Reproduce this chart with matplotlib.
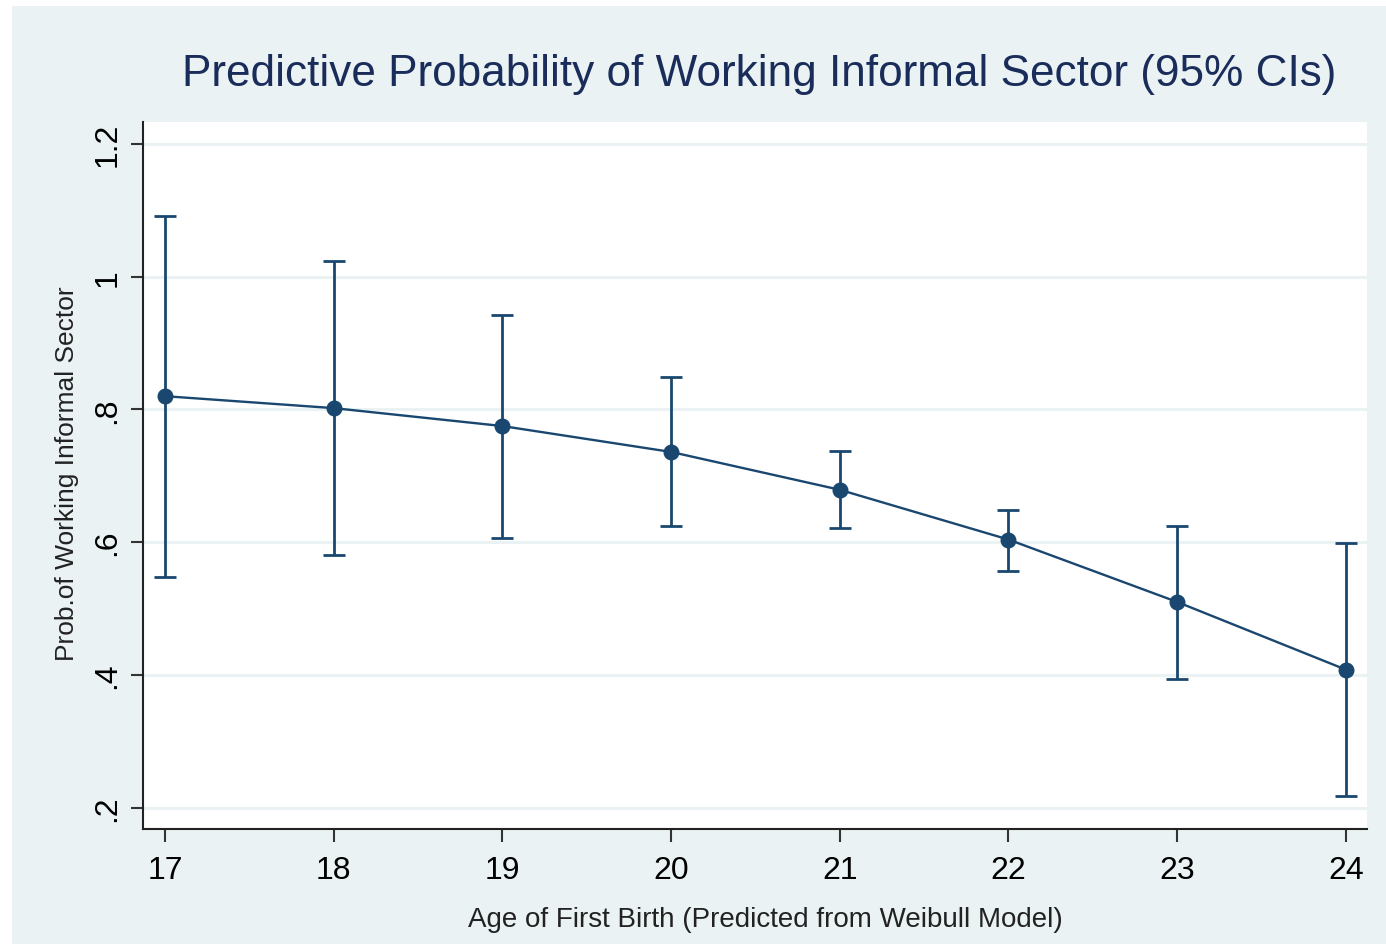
import matplotlib
matplotlib.use("Agg")
import matplotlib.pyplot as plt
from matplotlib.patches import Rectangle

plt.rcParams['font.family'] = ['Liberation Sans', 'DejaVu Sans']

ages = [17, 18, 19, 20, 21, 22, 23, 24]
prob = [0.820, 0.802, 0.775, 0.736, 0.679, 0.604, 0.510, 0.408]
upper = [1.092, 1.024, 0.943, 0.849, 0.738, 0.649, 0.625, 0.599]
lower = [0.548, 0.581, 0.607, 0.625, 0.622, 0.557, 0.394, 0.217]
yticks = [0.2, 0.4, 0.6, 0.8, 1.0, 1.2]
ytick_labels = [".2", ".4", ".6", ".8", "1", "1.2"]

W, H = 1386, 945
fig = plt.figure(figsize=(W / 100, H / 100), dpi=100, facecolor='white')
bg = '#EAF2F3'
fig.patches.append(Rectangle((12 / W, 0), 1 - 12 / W, 1 - 7 / H, transform=fig.transFigure,
                             facecolor=bg, edgecolor='none', zorder=-10))

ax = fig.add_axes([143 / W, 1 - 830 / H, (1367 - 143) / W, (830 - 123) / H])
ax.set_facecolor('white')
navy = '#1A476F'

yerr_low = [p - l for p, l in zip(prob, lower)]
yerr_up = [u - p for p, u in zip(prob, upper)]
ax.errorbar(ages, prob, yerr=[yerr_low, yerr_up], fmt='none', ecolor=navy,
            elinewidth=2.0, capsize=8, capthick=2.0, zorder=3)
ax.plot(ages, prob, color=navy, lw=1.7, marker='o', markersize=10.5, zorder=4)

ax.set_xlim(16.87, 24.125)
ax.set_ylim(0.168, 1.233)
ax.set_xticks(ages)
ax.set_xticklabels([str(a) for a in ages], fontsize=23)
ax.set_yticks(yticks)
ax.set_yticklabels(ytick_labels, fontsize=23, rotation=90, va='center')
ax.grid(axis='y', color=bg, lw=2.2, zorder=0)
ax.set_axisbelow(True)
for s in ['top', 'right']:
    ax.spines[s].set_visible(False)
for s in ['left', 'bottom']:
    ax.spines[s].set_linewidth(1.5)
    ax.spines[s].set_color('#222222')
ax.tick_params(axis='x', length=9, width=1.5, color='#333333', pad=10)
ax.tick_params(axis='y', length=9, width=1.5, color='#333333', pad=6)

fig.text(759 / W, 1 - 75 / H, "Predictive Probability of Working Informal Sector (95% CIs)",
         ha='center', va='center', fontsize=31.8, color='#1A2D5A')
fig.text(765 / W, 1 - 920 / H, "Age of First Birth (Predicted from Weibull Model)",
         ha='center', va='center', fontsize=20, color='#222222')
fig.text(67 / W, 1 - 474 / H, "Prob.of Working Informal Sector",
         ha='center', va='center', fontsize=19, rotation=90, color='#222222')

fig.savefig('out.png', dpi=100, facecolor=fig.get_facecolor())
